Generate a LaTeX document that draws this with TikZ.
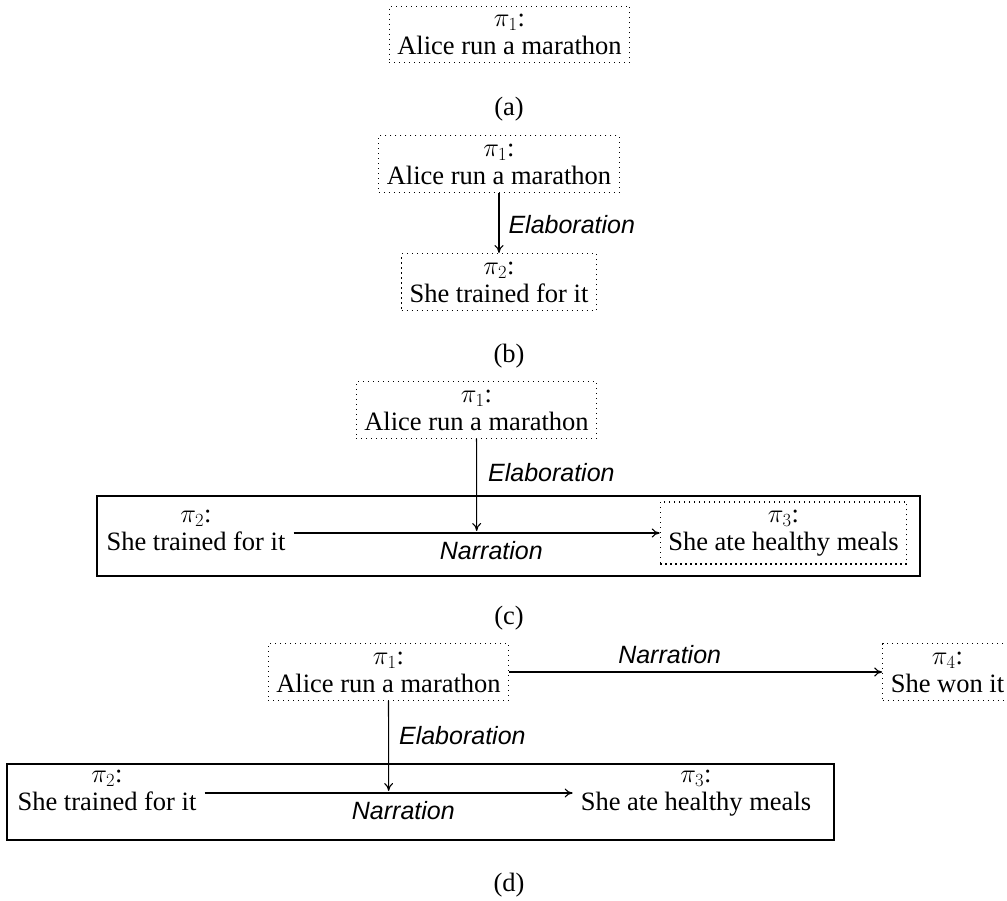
\RequirePackage{fix-cm}
\documentclass[tikz,border=0pt]{standalone}
\usepackage[no-math]{fontspec}
\setmainfont{Liberation Serif}
\newfontfamily\relfont{Liberation Sans}
\usetikzlibrary{arrows.meta}

\begin{document}
\begin{tikzpicture}[x=1pt,y=-1pt,
  txt/.style={align=center, font=\fontsize{26.5}{28}\selectfont, inner xsep=8pt, inner ysep=8pt},
  du/.style={txt, draw, line width=1.2pt, dash pattern=on 1.2pt off 3.8pt},
  rel/.style={line width=1.1pt, -{To[length=8pt,width=9pt]}},
  lab/.style={font=\relfont\itshape\fontsize{25}{28}\selectfont, inner sep=3pt},
  grp/.style={draw, line width=1.3pt},
  subcap/.style={font=\fontsize{26.5}{28}\selectfont, inner sep=0pt}]

\useasboundingbox (0,0) rectangle (1007,901);

% (a) a single unit
\node[du] (a1) at (509.5,34.5) {$\pi_1$:\\Alice run a marathon};
\node[subcap] (capa) at (509,109.5) {(a)};

% (b) elaboration
\node[du] (b1) at (499,164) {$\pi_1$:\\Alice run a marathon};
\node[du] (b2) at (499,282) {$\pi_2$:\\She trained for it};
\draw[rel] (b1) -- node[lab, anchor=west, xshift=6pt, pos=.53] {Elaboration} (b2);
\node[subcap] (capb) at (509,356) {(b)};

% (c) elaboration into a complex unit
\draw[grp] (97,496) rectangle (920,576);
\node[du] (c1) at (476.5,410) {$\pi_1$:\\Alice run a marathon};
\node[txt] (c2) at (196,530) {$\pi_2$:\\She trained for it};
\node[du] (c3) at (783.5,533) {$\pi_3$:\\She ate healthy meals};
\draw[rel] (c2.east |- c3) -- node[lab, below=5pt, pos=.54] {Narration}
  node[coordinate, midway] (c23) {} (c3.west);
\draw[rel, shorten >=2pt] (c1) -- node[lab, anchor=west, xshift=8pt, pos=.36] {Elaboration} (c23);
\node[subcap] (capc) at (509,618) {(c)};

% (d) narration continues at the top level
\draw[grp] (7,764) rectangle (834,840);
\node[du] (d1) at (388.5,672) {$\pi_1$:\\Alice run a marathon};
\node[du] (d4) at (947.5,672) {$\pi_4$:\\She won it};
\node[txt] (d2) at (107,790) {$\pi_2$:\\She trained for it};
\node[txt] (d3) at (696,793) {$\pi_3$:\\She ate healthy meals};
\draw[rel] (d1) -- node[lab, above=5pt, pos=.43] {Narration} (d4);
\draw[rel] (d2.east |- d3) -- node[lab, below=5pt, pos=.54] {Narration}
  node[coordinate, midway] (d23) {} (d3.west);
\draw[rel, shorten >=2pt] (d1) -- node[lab, anchor=west, xshift=7pt, pos=.38] {Elaboration} (d23);
\node[subcap] (capd) at (509,885.5) {(d)};
\end{tikzpicture}
\end{document}
